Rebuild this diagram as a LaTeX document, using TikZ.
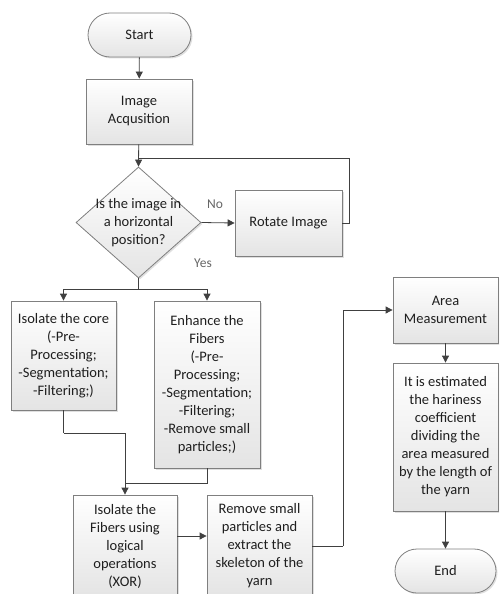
\documentclass[tikz,border=0pt]{standalone}
\usepackage{fontspec}
\setmainfont{Carlito}
\usetikzlibrary{arrows.meta,shapes.geometric,shapes.misc,shadows}
\definecolor{edge}{HTML}{7F7F7F}
\definecolor{line}{HTML}{404040}
\definecolor{fillb}{HTML}{E4E4E4}
\begin{document}
\begin{tikzpicture}[x=1pt,y=-1pt,
  font=\fontsize{14.5}{18}\selectfont,
  base/.style={draw=edge, line width=0.8pt, top color=white, bottom color=fillb,
    drop shadow={opacity=0.25, shadow xshift=1.5pt, shadow yshift=-1.5pt},
    align=center, inner sep=2pt, text=black!88},
  procbox/.style={base, rectangle, minimum width=#1},
  termbox/.style={base, rounded rectangle, minimum height=44pt},
  decbox/.style={base, diamond, minimum width=125pt, minimum height=111pt, inner sep=0pt},
  arr/.style={draw=line, line width=0.8pt, -{Triangle[length=7pt,width=7pt]}},
  ln/.style={draw=line, line width=0.8pt},
  lbl/.style={text=black!60, font=\fontsize{13.5}{16}\selectfont}
]
\useasboundingbox (0,0) rectangle (499,594);
\clip (0,0) rectangle (499,594);
\node[termbox, minimum width=107pt] (start) at (139.5,35) {Start};
\node[procbox=106pt, minimum height=65pt] (ia) at (139,111.5) {Image\\Acqusition};
\node[decbox] (dec) at (138.5,222.5) {};
\node[align=center, text=black!88] (dect) at (dec) {Is the image in\\a horizontal\\position?};
\node[procbox=107pt, minimum height=66pt] (rot) at (288.5,223) {Rotate Image};
\node[procbox=105pt, minimum height=109pt] (core) at (63.5,355.5) {Isolate the core\\(-Pre-\\Processing;\\-Segmentation;\\-Filtering;)};
\node[procbox=106pt, minimum height=167pt] (enh) at (207,384.5) {Enhance the\\Fibers\\(-Pre-\\Processing;\\-Segmentation;\\-Filtering;\\-Remove small\\particles;)};
\node[procbox=104pt, minimum height=102pt] (iso) at (125,546) {Isolate the\\Fibers using\\logical\\operations\\(XOR)};
\node[procbox=105pt, minimum height=102pt] (rem) at (259.5,546) {Remove small\\particles and\\extract the\\skeleton of the\\yarn};
\node[procbox=105pt, minimum height=66pt] (area) at (445.5,310) {Area\\Measurement};
\node[procbox=105pt, minimum height=148pt] (har) at (445.5,437) {It is estimated\\the hariness\\coefficient\\dividing the\\area measured\\by the length of\\the yarn};
\node[termbox, minimum width=105pt] (end) at (445.5,571) {End};
\coordinate (j) at (139,158);
\coordinate (split) at (138.5,289);
\coordinate (mergeA) at (63.5,433);
\coordinate (mergeB) at (207,483);
\coordinate (riser) at (343,546);
\draw[arr] (start) -- (ia);
\draw[arr] (ia) -- (dec.north);
\draw[arr] (dec.east) -- (rot.west);
\draw[ln] (rot.east) -- ++(6.5,0) |- (j);
\draw[ln] (dec.south) -- (split);
\draw[arr] (split) -| (core.north);
\draw[arr] (split) -| (enh.north);
\draw[ln] (core.south) -- (mergeA);
\draw[arr] (mergeA) -| (iso.north);
\draw[ln] (enh.south) -- (mergeB) -- (mergeB -| iso.north);
\draw[arr] (iso.east |- 0,536) -- (rem.west |- 0,536);
\draw[ln] (rem.east |- riser) -- (riser);
\draw[arr] (riser) |- (area.west);
\draw[arr] (area) -- (har);
\draw[arr] (har) -- (end);
\node[lbl] (no) at (215,204) {No};
\node[lbl] (yes) at (203,263) {Yes};
\end{tikzpicture}
\end{document}
